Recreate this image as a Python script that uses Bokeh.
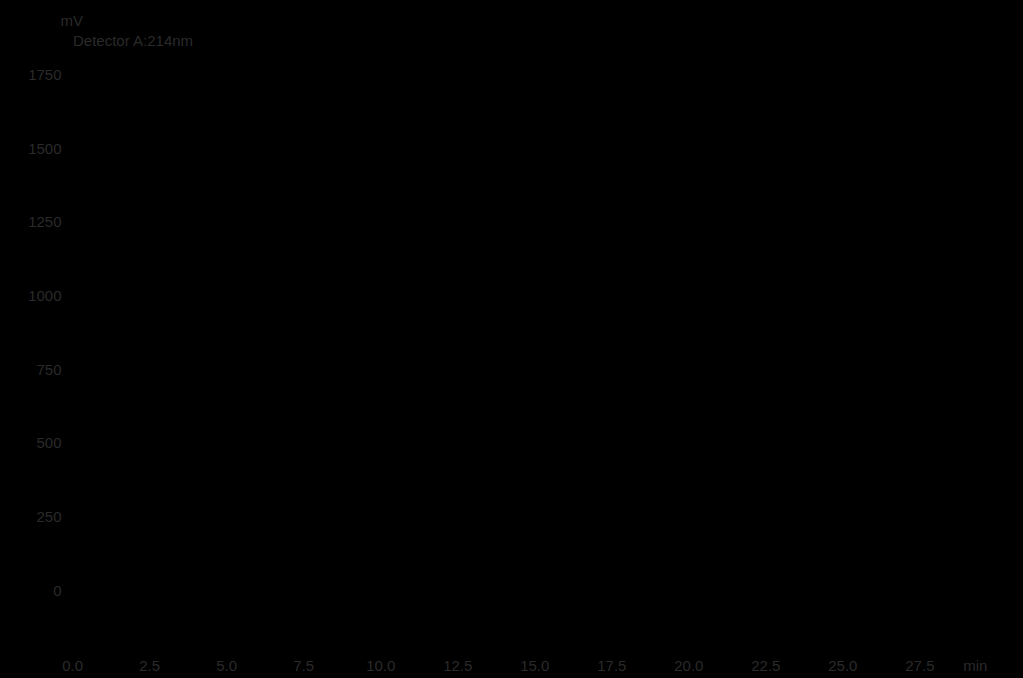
from bokeh.plotting import figure
from bokeh.embed import file_html
from bokeh.resources import INLINE
from bokeh.models import FixedTicker, Range1d

# Data (the trace is drawn black on black in the reference; only a baseline is discernible)
time_min = [0.0, 29.5]
signal_mv = [0.0, 0.0]
x_ticks = [0.0, 2.5, 5.0, 7.5, 10.0, 12.5, 15.0, 17.5, 20.0, 22.5, 25.0, 27.5]
x_unit_pos = 29.3
y_ticks = [0, 250, 500, 750, 1000, 1250, 1500, 1750]
y_unit = "mV"
detector = "Detector A:214nm"

TXT = "#2a2a2a"
FONT = "Liberation Sans"
FS = "15px"

p = figure(width=1017, height=676, output_backend="svg", toolbar_location=None,
           x_range=Range1d(-0.2, 29.5), y_range=Range1d(-200, 1800),
           title=y_unit + "\n\u00a0\u00a0\u00a0" + detector,
           min_border_left=66, min_border_right=36, min_border_top=60, min_border_bottom=27)
p.background_fill_color = "black"
p.border_fill_color = "black"
p.outline_line_color = None
p.grid.visible = False

p.line(time_min, signal_mv, line_color="black", line_width=1)

for ax in (p.xaxis[0], p.yaxis[0]):
    ax.axis_line_color = "black"
    ax.major_tick_line_color = "black"
    ax.minor_tick_line_color = None
    ax.major_label_text_color = TXT
    ax.major_label_text_font = FONT
    ax.major_label_text_font_size = FS
    ax.major_tick_out = 0
    ax.major_tick_in = 0

p.xaxis.ticker = FixedTicker(ticks=x_ticks + [x_unit_pos])
p.yaxis.ticker = FixedTicker(ticks=y_ticks)
p.xaxis.major_label_standoff = 7
p.yaxis.major_label_standoff = 5
ovr = {t: f"{t:.1f}" for t in x_ticks}
ovr[x_unit_pos] = "min"
p.xaxis.major_label_overrides = ovr
p.yaxis.major_label_overrides = {t: str(t) for t in y_ticks}

p.title.text_color = TXT
p.title.text_font = FONT
p.title.text_font_size = FS
p.title.text_font_style = "normal"
p.title.text_line_height = 1.2
p.title.align = "left"
p.title.vertical_align = "top"
p.title.offset = -6
p.title.standoff = 20

html = file_html(p, INLINE)
html = html.replace("<head>", "<head><style>html,body{background:#000;}</style>", 1)
open("out.html", "w").write(html)
